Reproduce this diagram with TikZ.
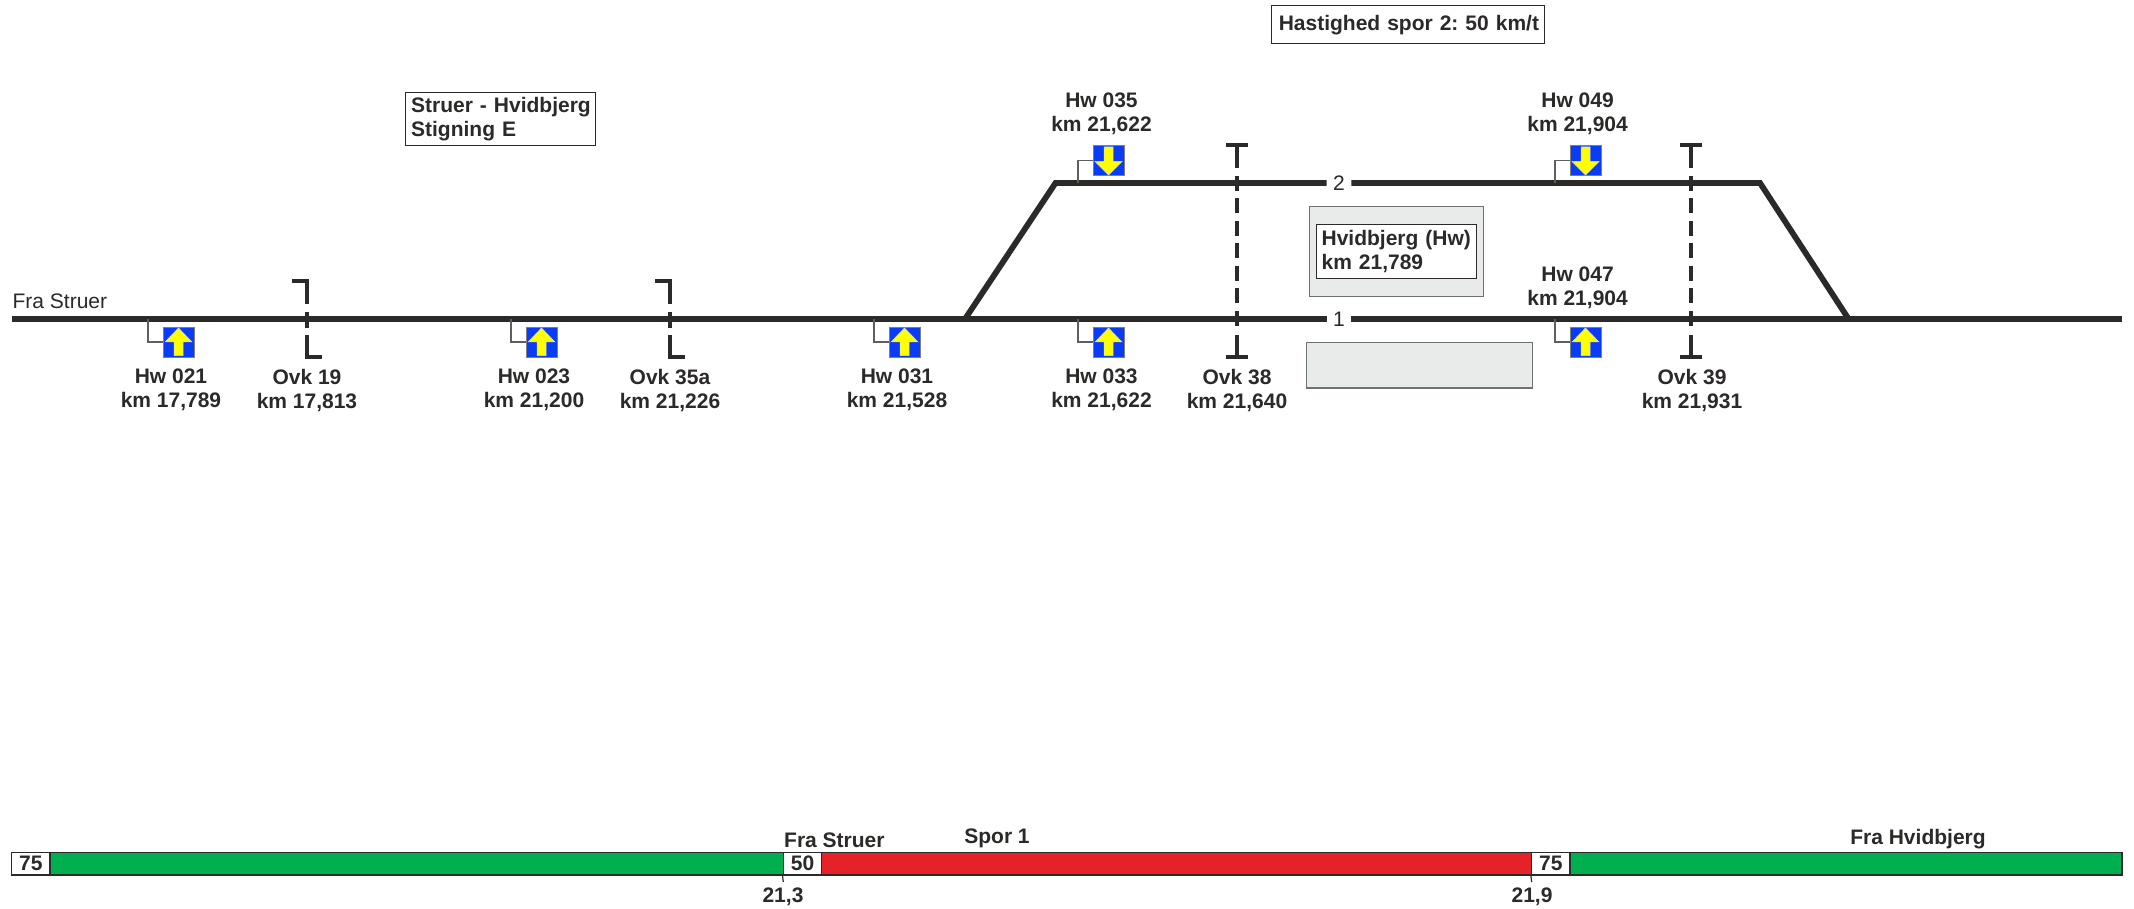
\documentclass[tikz,border=0pt]{standalone}
\usepackage{fontspec}
\setmainfont{Liberation Sans}
\frenchspacing
\definecolor{ink}{HTML}{2B2A29}
\definecolor{panel}{HTML}{E9EBEA}
\definecolor{edgegrey}{HTML}{6F7070}
\definecolor{sigblue}{HTML}{0A3CF5}
\definecolor{sigyellow}{HTML}{FFFF00}
\definecolor{bargreen}{HTML}{00B050}
\definecolor{barred}{HTML}{E52228}
\tikzset{
  lbl/.style={font=\fontsize{21}{24}\selectfont\bfseries,text=ink,align=center,inner sep=0pt},
  lblleft/.style={lbl,align=left},
  plainlbl/.style={font=\fontsize{21}{24}\selectfont,text=ink,inner sep=0pt},
  track/.style={draw=ink,line width=5.8pt,line join=miter},
  tracknum/.style={plainlbl,fill=white,minimum width=24.5pt,minimum height=12pt},
  stem/.style={draw=ink!75,line width=1.4pt},
  sigbox/.style={draw=ink!60,fill=sigblue,line width=.8pt,minimum width=31pt,minimum height=30pt,inner sep=0pt},
  sigarrow/.style={fill=sigyellow,draw=white!85!black,line width=.5pt},
  ovk/.style={draw=ink,line width=4pt},
  ovkdash/.style={ovk,dash pattern=on 15pt off 7.5pt},
  infobox/.style={lblleft,draw=ink,fill=white,line width=1.2pt,anchor=north west},
  panelbox/.style={draw=edgegrey,fill=panel,line width=1.2pt},
  barseg/.style={draw=ink,line width=1.5pt},
  speedbox/.style={lbl,draw=ink,fill=white,line width=1.5pt,minimum width=38.4pt,minimum height=22.7pt},
  tick/.style={draw=ink,line width=1.2pt}
}
% name, left x, top y, track coordinate name, stem x
\newcommand\sigup[5]{%
  \node[sigbox] (#1) at (#2+15.5,#3+15) {};
  \draw[sigarrow,shift={(#2,#3)}] (15.5,1) -- (29,15) -- (20,15) -- (20,28.5) -- (11,28.5) -- (11,15) -- (2,15) -- cycle;
  \coordinate (#4) at (#5,319);
  \draw[stem] (#4) |- (#1.west);
}
\newcommand\sigdown[5]{%
  \node[sigbox] (#1) at (#2+15.5,#3+15.5) {};
  \draw[sigarrow,shift={(#2,#3)}] (15.5,30) -- (29,16.5) -- (20,16.5) -- (20,2) -- (11,2) -- (11,16.5) -- (2,16.5) -- cycle;
  \coordinate (#4) at (#5,183);
  \draw[stem] (#4) |- (#1.west);
}
% x of the post: hooked signpost
\newcommand\ovkhook[1]{%
  \draw[ovk,line join=miter] (#1-15,281) -- (#1,281) -- (#1,304);
  \draw[ovk] (#1,312) -- (#1,328);
  \draw[ovk,line join=miter] (#1,335) -- (#1,357) -- (#1+15,357);
}
\newcommand\ovkbar[1]{%
  \draw[ovk] (#1-11,145) -- (#1+11,145);
  \draw[ovk] (#1,145) -- (#1,168);
  \draw[ovkdash] (#1,176) -- (#1,328);
  \draw[ovk] (#1,335) -- (#1,357);
  \draw[ovk] (#1-11,357) -- (#1+11,357);
}
\begin{document}
\begin{tikzpicture}[x=1pt,y=-1pt]
\useasboundingbox[fill=white] (0,0) rectangle (2134,909);

% info boxes
\node[infobox,inner sep=0pt,minimum height=38.3pt,text width=257.8pt,inner xsep=7.5pt] (speed) at (1270.7,5) {\mbox{Hastighed spor 2: 50 km/t}};
\node[infobox,inner sep=0pt,minimum height=53pt,text width=178.6pt,inner xsep=5.5pt] (stig) at (405,92.3) {\raisebox{-1pt}{Struer - Hvidbjerg}\\\raisebox{-1pt}{Stigning E}};

% station panels
\node[panelbox,anchor=north west,minimum width=174pt,minimum height=90.6pt,inner sep=0pt] (stnpanel) at (1309,205.7) {};
\node[infobox,inner sep=0pt,minimum height=53.4pt,text width=149.6pt,inner xsep=5pt] (stn) at (1316,224.3) {Hvidbjerg (Hw)\\km 21,789};
\node[panelbox,anchor=north west,minimum width=226.5pt,minimum height=45.6pt,inner sep=0pt] (platform) at (1305.5,341.7) {};

% tracks
\coordinate (tstart) at (12,319);
\coordinate (tend) at (2122,319);
\coordinate (jw) at (965,319);
\coordinate (jwt) at (1055.5,183);
\coordinate (jet) at (1760,183);
\coordinate (je) at (1848.6,319);
\node[tracknum] (n1) at (1339,319) {1};
\node[tracknum] (n2) at (1339,183) {2};
\draw[track] (tstart) -- (n1.west);
\draw[track] (n1.east) -- (tend);
\draw[track] (jw) -- (jwt) -- (n2.west);
\draw[track] (n2.east) -- (jet) -- (je);

% signals
\sigup{s21}{163}{327}{c21}{148}
\sigup{s23}{526}{327}{c23}{511}
\sigup{s31}{889}{327}{c31}{874}
\sigup{s33}{1093}{327}{c33}{1078}
\sigup{s47}{1570}{327}{c47}{1555}
\sigdown{s35}{1093}{145}{c35}{1078}
\sigdown{s49}{1570}{145}{c49}{1555}

% crossings
\ovkhook{307}
\ovkhook{670}
\ovkbar{1237}
\ovkbar{1690.5}

% labels
\node[plainlbl,anchor=west] (frastruer) at (12.4,301.7) {Fra Struer};
\node[lbl] (l21) at (171,390.2) {Hw 021\\km 17,789};
\node[lbl] (l19) at (307,390.2) {Ovk 19\\km 17,813};
\node[lbl] (l23) at (534,390.2) {Hw 023\\km 21,200};
\node[lbl] (l35a) at (670,390.2) {Ovk 35a\\km 21,226};
\node[lbl] (l31) at (897,390.2) {Hw 031\\km 21,528};
\node[lbl] (l33) at (1101.5,390.2) {Hw 033\\km 21,622};
\node[lbl] (l38) at (1237,390.2) {Ovk 38\\km 21,640};
\node[lbl] (l39) at (1692,390.2) {Ovk 39\\km 21,931};
\node[lbl] (l35) at (1101.5,114.2) {Hw 035\\km 21,622};
\node[lbl] (l49) at (1577.6,114.2) {Hw 049\\km 21,904};
\node[lbl] (l47) at (1577.6,288.2) {Hw 047\\km 21,904};

% speed profile
\path[barseg,fill=bargreen] (50,852.5) rectangle (783.3,875);
\path[barseg,fill=barred] (821.7,852.5) rectangle (1531.7,875);
\path[barseg,fill=bargreen] (1570,852.5) rectangle (2122,875);
\node[speedbox] (v75a) at (30.8,863.7) {75};
\node[speedbox] (v50) at (802.5,863.7) {50};
\node[speedbox] (v75b) at (1550.8,863.7) {75};
\coordinate (t1) at (783.3,882);
\coordinate (t2) at (1531.7,882);
\draw[tick] (v50.south west) -- (t1);
\draw[tick] (v75b.south west) -- (t2);
\node[lbl] (km1) at (783,896.5) {21,3};
\node[lbl] (km2) at (1532,896.5) {21,9};
\node[lbl,anchor=west] (fs) at (784,840.2) {Fra Struer};
\node[lbl] (sp) at (997,838.5) {Spor 1};
\node[lbl] (fh) at (1918,839.2) {Fra Hvidbjerg};
\end{tikzpicture}
\end{document}
